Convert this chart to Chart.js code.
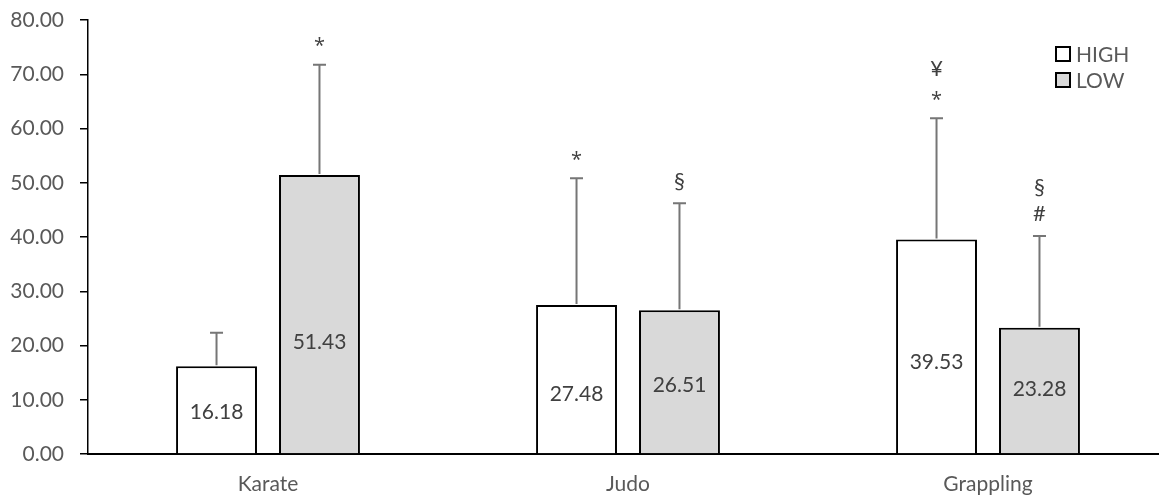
<!DOCTYPE html>
<html>
<head>
<meta charset="utf-8">
<script src="https://cdn.jsdelivr.net/npm/chart.js@4.4.1/dist/chart.umd.min.js"></script>
<style>
html,body{margin:0;padding:0;background:#fff;overflow:hidden;width:1159px;height:497px;}
canvas{display:block;}
</style>
</head>
<body>
<canvas id="c" width="1168" height="497"></canvas>
<script>
// ---- data ----
const categories = ['Karate', 'Judo', 'Grappling'];
const seriesNames = ['HIGH', 'LOW'];
const highValues = [16.18, 27.48, 39.53];
const lowValues = [51.43, 26.51, 23.28];
const highSD = [6.18, 23.34, 22.35];
const lowSD = [20.33, 19.70, 16.90];
const highMarks = [[], ['*'], ['¥', '*']];
const lowMarks = [['*'], ['§'], ['§', '#']];
const yTicks = [0, 10, 20, 30, 40, 50, 60, 70, 80];

// ---- style ----
const FONT = 'Lato, "Open Sans", sans-serif';
const MARKFONT = '"Open Sans", sans-serif';
const labelFrac = [[0.48, 0.40, 0.43], [0.40, 0.475, 0.51]];

const sdList = [highSD, lowSD];
const markList = [highMarks, lowMarks];

const overlay = {
  id: 'overlay',
  afterDatasetsDraw(chart) {
    const ctx = chart.ctx;
    const y = chart.scales.y;
    ctx.save();
    chart.data.datasets.forEach((ds, di) => {
      const meta = chart.getDatasetMeta(di);
      meta.data.forEach((bar, i) => {
        const v = ds.data[i];
        const top = y.getPixelForValue(v + sdList[di][i]);
        const base = y.getPixelForValue(v);
        // error bar
        ctx.strokeStyle = '#767676';
        ctx.lineWidth = 2;
        ctx.beginPath();
        ctx.moveTo(bar.x, base - 1);
        ctx.lineTo(bar.x, top);
        ctx.moveTo(bar.x - 6.5, top);
        ctx.lineTo(bar.x + 6.5, top);
        ctx.stroke();
        // value label
        ctx.fillStyle = '#404040';
        ctx.font = '21px ' + FONT;
        ctx.textAlign = 'center';
        ctx.textBaseline = 'middle';
        ctx.fillText(v.toFixed(2), bar.x, y.getPixelForValue(v * labelFrac[di][i]));
        // significance marks
        const marks = markList[di][i];
        const n = marks.length;
        marks.forEach((m, k) => {
          ctx.font = (m === '*' ? '20px ' + MARKFONT : '22px ' + FONT);
          const yy = top - 22 - (n - 1 - k) * 27;
          ctx.fillText(m, bar.x, yy + (m === '*' ? 4 : 0));
        });
      });
    });
    // legend
    const ca = chart.chartArea;
    const bx = ca.right - 112;
    chart.data.datasets.forEach((ds, di) => {
      const cy = 54 + di * 26;
      ctx.fillStyle = ds.backgroundColor;
      ctx.fillRect(bx, cy - 7, 14, 14);
      ctx.strokeStyle = '#000';
      ctx.lineWidth = 2;
      ctx.strokeRect(bx, cy - 7, 14, 14);
      ctx.fillStyle = '#595959';
      ctx.font = '21px ' + FONT;
      ctx.textAlign = 'left';
      ctx.textBaseline = 'middle';
      ctx.fillText(ds.label, bx + 20, cy + 1);
    });
    ctx.restore();
  }
};

new Chart(document.getElementById('c'), {
  type: 'bar',
  data: {
    labels: categories,
    datasets: [
      { label: seriesNames[0], data: highValues, backgroundColor: '#ffffff', borderColor: '#000000', borderWidth: 2 },
      { label: seriesNames[1], data: lowValues, backgroundColor: '#d9d9d9', borderColor: '#000000', borderWidth: 2 }
    ]
  },
  options: {
    responsive: false,
    animation: false,
    devicePixelRatio: 1,
    layout: { padding: { top: 20, right: 0, bottom: 0, left: 0 } },
    plugins: { legend: { display: false }, tooltip: { enabled: false } },
    datasets: { bar: { categoryPercentage: 0.572, barPercentage: 0.786 } },
    scales: {
      x: {
        grid: { display: false, drawTicks: false },
        border: { display: true, color: '#000', width: 2 },
        ticks: { color: '#595959', font: { family: FONT, size: 21 }, padding: 18 },
        afterFit(s) { s.height = 43; s.paddingLeft = 0; s.paddingRight = 0; }
      },
      y: {
        min: 0, max: 80,
        afterBuildTicks(s) { s.ticks = yTicks.map(v => ({ value: v })); },
        grid: { drawOnChartArea: false, tickLength: 8, color: '#000', lineWidth: 1.5 },
        border: { display: true, color: '#000', width: 1.5 },
        ticks: { color: '#595959', font: { family: FONT, size: 21 }, padding: 16, callback: v => Number(v).toFixed(2) },
        afterFit(s) { s.width = 88; s.paddingTop = 0; s.paddingBottom = 0; }
      }
    }
  },
  plugins: [overlay]
});
</script>
</body>
</html>
